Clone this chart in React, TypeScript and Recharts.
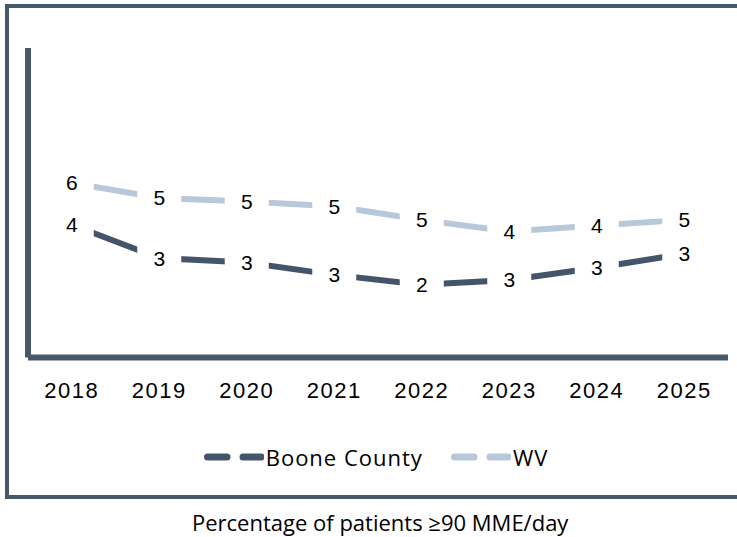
import { LineChart, Line, XAxis, YAxis, Legend, LabelList } from "recharts";

const years = ["2018", "2019", "2020", "2021", "2022", "2023", "2024", "2025"];
const booneValues = [4.42, 3.31, 3.16, 2.75, 2.42, 2.58, 2.99, 3.45];
const wvValues = [5.81, 5.31, 5.19, 5.03, 4.58, 4.19, 4.39, 4.58];

const data = years.map((year, i) => ({
  year,
  boone: booneValues[i],
  wv: wvValues[i],
}));

const DARK = "#44546A";
const LIGHT = "#B6C8DA";
const FRAME = "#475869";
const ARIAL = "Liberation Sans, Arial, sans-serif";
const SANS = "Open Sans, Noto Sans, sans-serif";

const DataLabel = (props: any) => {
  const { x, y, value } = props;
  if (x == null || y == null) return null;
  return (
    <g>
      <rect x={x - 22} y={y - 15} width={44} height={30} fill="#fff" />
      <text
        x={x}
        y={y}
        textAnchor="middle"
        dominantBaseline="central"
        fontSize={21}
        fontFamily={ARIAL}
        fill="#000"
      >
        {Math.round(value)}
      </text>
    </g>
  );
};

const LegendIcon = ({ color }: { color: string }) => (
  <svg width={60} height={12} style={{ display: "block" }}>
    <line x1={3.5} y1={6} x2={23} y2={6} stroke={color} strokeWidth={7} strokeLinecap="round" />
    <line x1={39} y1={6} x2={57} y2={6} stroke={color} strokeWidth={7} strokeLinecap="round" />
  </svg>
);

const renderLegend = (props: any) => {
  const items = props.payload || [];
  return (
    <div style={{ display: "flex", justifyContent: "center", alignItems: "center", gap: 28 }}>
      {items.map((item: any) => (
        <div key={item.value} style={{ display: "flex", alignItems: "center", gap: 2 }}>
          <LegendIcon color={item.color} />
          <span
            style={{
              fontFamily: SANS,
              fontSize: 22,
              letterSpacing: 1,
              lineHeight: "28px",
              color: "#000",
            }}
          >
            {item.value}
          </span>
        </div>
      ))}
    </div>
  );
};

const App = () => {
  return (
    <div style={{ position: "absolute", left: 0, top: 0, width: 737, height: 537, background: "#fff", overflow: "hidden" }}>
      <div
        style={{
          position: "absolute",
          left: 5,
          top: 4,
          width: 800,
          height: 495,
          boxSizing: "border-box",
          borderTop: `4px solid ${FRAME}`,
          borderLeft: `4px solid ${FRAME}`,
          borderBottom: `4px solid ${FRAME}`,
        }}
      />
      <div style={{ position: "absolute", left: 0, top: 0 }}>
        <LineChart
          width={737}
          height={537}
          data={data}
          margin={{ top: 48, right: 9, bottom: 119.5, left: 27 }}
        >
          <XAxis
            dataKey="year"
            height={60}
            padding={{ left: 43.75, right: 43.75 }}
            axisLine={{ stroke: FRAME, strokeWidth: 6 }}
            tickLine={false}
            tickSize={0}
            tickMargin={25}
            interval={0}
            tick={{ fill: "#000", fontSize: 22, fontFamily: ARIAL, letterSpacing: 1.5 }}
          />
          <YAxis
            type="number"
            domain={[0, 10.3]}
            allowDataOverflow
            width={1}
            tick={false}
            tickLine={false}
            axisLine={{ stroke: FRAME, strokeWidth: 6 }}
          />
          <Legend
            layout="horizontal"
            verticalAlign="middle"
            align="center"
            content={renderLegend}
            wrapperStyle={{ position: "absolute", top: 443, left: 26, width: 700 }}
          />
          <Line
            name="Boone County"
            dataKey="boone"
            type="linear"
            stroke={DARK}
            strokeWidth={6}
            dot={false}
            activeDot={false}
            isAnimationActive={false}
          >
            <LabelList dataKey="boone" content={DataLabel} />
          </Line>
          <Line
            name="WV"
            dataKey="wv"
            type="linear"
            stroke={LIGHT}
            strokeWidth={6}
            dot={false}
            activeDot={false}
            isAnimationActive={false}
          >
            <LabelList dataKey="wv" content={DataLabel} />
          </Line>
        </LineChart>
      </div>
      <div
        style={{
          position: "absolute",
          left: 192,
          top: 507,
          fontFamily: SANS,
          fontSize: 22,
          lineHeight: "30px",
          color: "#000",
          whiteSpace: "nowrap",
        }}
      >
        Percentage of patients ≥90 MME/day
      </div>
    </div>
  );
};

export default App;
